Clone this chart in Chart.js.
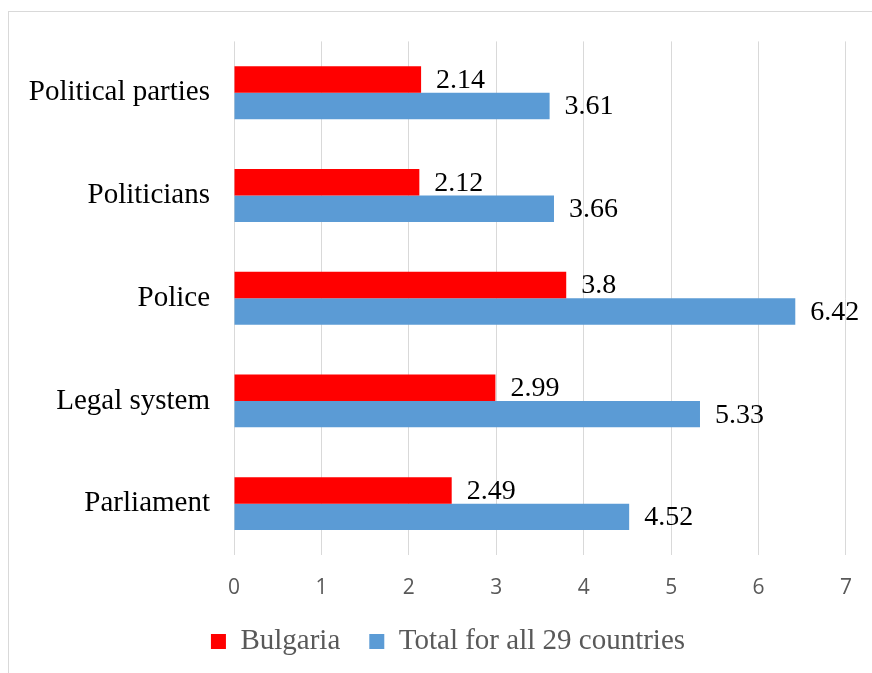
<!DOCTYPE html>
<html>
<head>
<meta charset="utf-8">
<script src="https://cdn.jsdelivr.net/npm/chart.js@4/dist/chart.umd.min.js"></script>
<style>
  html, body { margin: 0; padding: 0; background: #ffffff; overflow: hidden; }
  #frame { position: absolute; left: 8px; top: 11px; width: 1000px; height: 1000px;
           border-left: 1px solid #d9d9d9; border-top: 1px solid #d9d9d9; }
  #wrap { position: absolute; left: 0; top: 0; width: 872px; height: 673px; }
</style>
</head>
<body>
<div id="frame"></div>
<div id="wrap"><canvas id="c" width="872" height="673"></canvas></div>
<script>
const categories = ['Political parties', 'Politicians', 'Police', 'Legal system', 'Parliament'];
const seriesNames = ['Bulgaria', 'Total for all 29 countries'];
const bulgaria = [2.14, 2.12, 3.8, 2.99, 2.49];
const totalAll = [3.61, 3.66, 6.42, 5.33, 4.52];
const xTicks = [0, 1, 2, 3, 4, 5, 6, 7];

const valueLabels = {
  id: 'valueLabels',
  afterDatasetsDraw(chart) {
    const ctx = chart.ctx;
    ctx.save();
    ctx.font = '28px "Liberation Serif", "Times New Roman", serif';
    ctx.fillStyle = '#000000';
    ctx.textAlign = 'left';
    ctx.textBaseline = 'middle';
    chart.data.datasets.forEach((ds, di) => {
      const meta = chart.getDatasetMeta(di);
      meta.data.forEach((bar, i) => {
        ctx.fillText(String(ds.data[i]), bar.x + 15, bar.y + 1);
      });
    });
    ctx.restore();
  }
};

new Chart(document.getElementById('c'), {
  type: 'bar',
  data: {
    labels: categories,
    datasets: [
      { label: seriesNames[0], data: bulgaria, backgroundColor: '#FF0000', borderWidth: 0,
        categoryPercentage: 0.515, barPercentage: 1.0 },
      { label: seriesNames[1], data: totalAll, backgroundColor: '#5B9BD5', borderWidth: 0,
        categoryPercentage: 0.515, barPercentage: 1.0 }
    ]
  },
  options: {
    indexAxis: 'y',
    responsive: false,
    animation: false,
    layout: { padding: { top: 40, left: 24, right: 0, bottom: 7 } },
    scales: {
      x: {
        min: 0, max: 7,
        afterBuildTicks(scale) { scale.ticks = xTicks.map(v => ({ value: v })); },
        afterFit(scale) { scale.height = 43; },
        grid: { color: '#d9d9d9', lineWidth: 1, drawTicks: false },
        border: { display: false },
        ticks: { color: '#595959', padding: 20,
                 font: { family: '"Open Sans", "Noto Sans", sans-serif', size: 21 } }
      },
      y: {
        afterFit(scale) { scale.width = 210; },
        grid: { display: false, drawTicks: false },
        border: { display: false },
        ticks: { color: '#000000', padding: 24,
                 font: { family: '"Liberation Serif", "Times New Roman", serif', size: 29 } }
      },
      yRight: {
        type: 'category',
        position: 'right',
        afterFit(scale) { scale.width = 25; },
        grid: { display: false, drawTicks: false },
        border: { display: false },
        ticks: { display: false }
      }
    },
    plugins: {
      legend: {
        position: 'bottom',
        labels: {
          boxWidth: 15, boxHeight: 15, padding: 29, color: '#595959',
          font: { family: '"Liberation Serif", "Times New Roman", serif', size: 29 }
        }
      },
      tooltip: { enabled: false }
    }
  },
  plugins: [valueLabels]
});
</script>
</body>
</html>
